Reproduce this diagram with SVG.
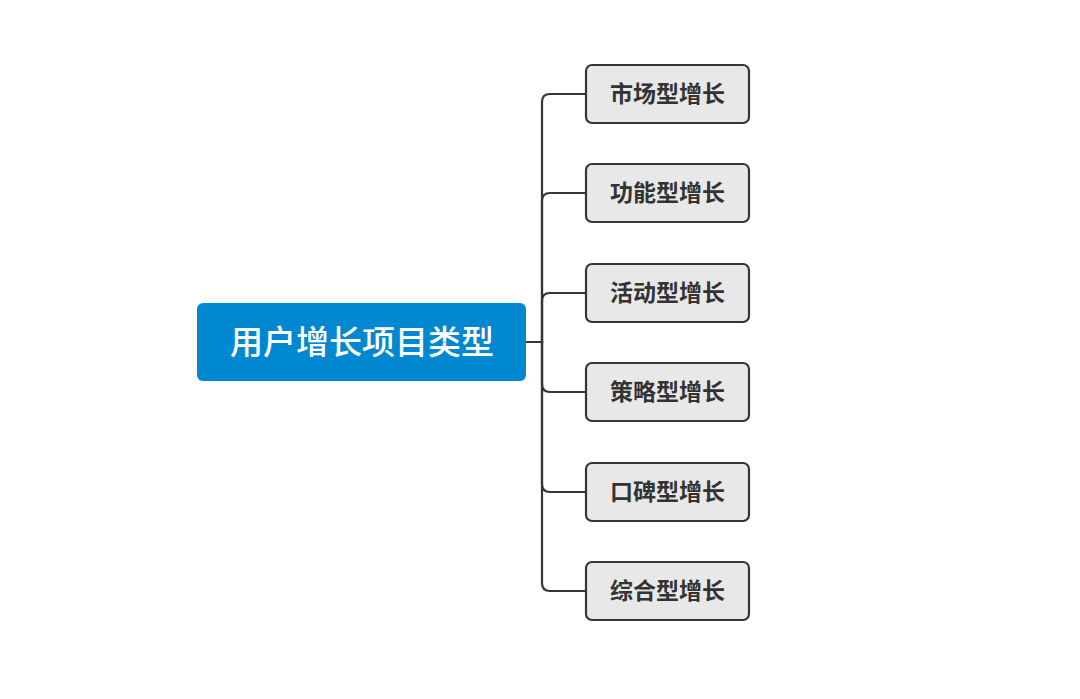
<svg xmlns="http://www.w3.org/2000/svg" width="1080" height="699" viewBox="0 0 1080 699">
<style>
.child rect{fill:#e8e8e8;stroke:#363636;stroke-width:2.2}
.child text{font-family:"Noto Sans CJK SC","Noto Sans",sans-serif;font-weight:bold;font-size:23px;fill:#333333;text-anchor:middle;dominant-baseline:central}
.conn path{fill:none;stroke:#363636;stroke-width:2.2}
</style>
<rect x="0" y="0" width="1080" height="699" fill="#ffffff"/>
<g class="conn" id="connectors">
<path d="M526 342 H542 V102 Q542 94 550 94 H586"/>
<path d="M526 342 H542 V201 Q542 193 550 193 H586"/>
<path d="M526 342 H542 V301 Q542 293 550 293 H586"/>
<path d="M526 342 H542 V384 Q542 392 550 392 H586"/>
<path d="M526 342 H542 V484 Q542 492 550 492 H586"/>
<path d="M526 342 H542 V583 Q542 591 550 591 H586"/>
</g>
<g id="root">
<rect x="197" y="303" width="329" height="78" rx="6" fill="#0288d1"/>
<text x="362" y="340" font-family="Noto Sans CJK SC,Noto Sans,sans-serif" font-weight="500" font-size="33" fill="#ffffff" text-anchor="middle" dominant-baseline="central">用户增长项目类型</text>
</g>
<g class="child" id="n1"><rect x="586" y="65" width="163" height="58" rx="6"/><text x="667.5" y="92">市场型增长</text></g>
<g class="child" id="n2"><rect x="586" y="164" width="163" height="58" rx="6"/><text x="667.5" y="191">功能型增长</text></g>
<g class="child" id="n3"><rect x="586" y="264" width="163" height="58" rx="6"/><text x="667.5" y="291">活动型增长</text></g>
<g class="child" id="n4"><rect x="586" y="363" width="163" height="58" rx="6"/><text x="667.5" y="390">策略型增长</text></g>
<g class="child" id="n5"><rect x="586" y="463" width="163" height="58" rx="6"/><text x="667.5" y="490">口碑型增长</text></g>
<g class="child" id="n6"><rect x="586" y="562" width="163" height="58" rx="6"/><text x="667.5" y="589">综合型增长</text></g>
</svg>
